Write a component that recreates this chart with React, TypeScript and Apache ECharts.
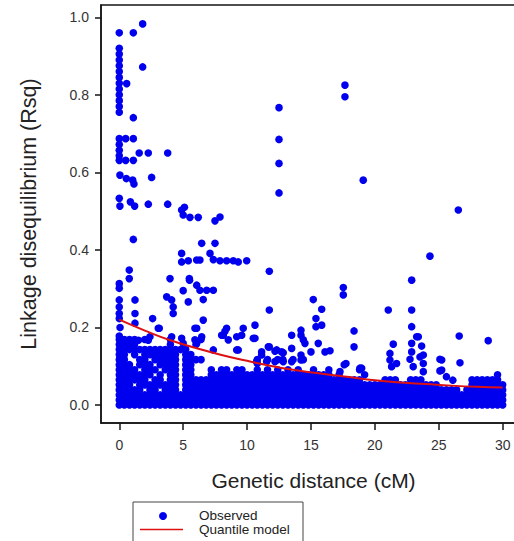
import React, { useEffect, useRef } from "react";
import * as echarts from "echarts";

const xTicks = [0, 5, 10, 15, 20, 25, 30];
const yTicks = [0, 0.2, 0.4, 0.6, 0.8, 1.0];

// Quantile model curve
const curveX = [0, 2, 4, 6, 8, 10, 12, 14, 16, 18, 20, 22, 24, 26, 28, 30];
const curveY = [0.22, 0.192, 0.167, 0.147, 0.129, 0.114, 0.1, 0.089, 0.08, 0.072, 0.064, 0.058, 0.054, 0.05, 0.047, 0.045];

// Isolated observed points [cM, Rsq]
const observedPoints: [number, number][] = [
  [1.83, 0.983], [0, 0.96], [1.1, 0.96],
  [0, 0.92], [0, 0.905], [0, 0.89], [0, 0.875], [0, 0.86], [0, 0.845], [0, 0.83], [0, 0.815], [0, 0.8], [0, 0.785], [0, 0.77], [0, 0.755],
  [0.58, 0.829], [1.83, 0.872], [1.1, 0.741],
  [0.5, 0.687], [1.1, 0.687], [0, 0.687], [0, 0.672], [0, 0.657], [0, 0.643], [0, 0.631], [0.5, 0.631], [1.1, 0.631],
  [1.56, 0.65], [2.27, 0.65], [3.79, 0.65],
  [0.05, 0.593], [0.55, 0.584], [1.05, 0.58], [1.15, 0.57], [2.53, 0.587],
  [0, 0.533], [0.87, 0.524], [0.05, 0.513], [1.2, 0.513], [2.27, 0.518], [3.79, 0.518], [5.1, 0.51],
  [4.88, 0.503], [5.0, 0.49], [5.53, 0.484], [6.18, 0.484], [7.49, 0.475], [7.88, 0.485],
  [1.1, 0.427], [6.45, 0.417], [7.49, 0.417],
  [4.88, 0.391], [4.88, 0.369], [5.4, 0.372], [6.06, 0.374], [6.31, 0.374],
  [7.1, 0.391], [7.36, 0.375], [7.88, 0.372], [8.4, 0.372], [8.92, 0.372], [9.31, 0.369], [9.97, 0.372],
  [0.78, 0.348], [0.78, 0.326], [0, 0.313], [0, 0.301], [3.97, 0.326], [5.48, 0.326], [5.0, 0.295],
  [6.06, 0.309], [6.31, 0.296], [6.84, 0.296], [7.36, 0.296], [5.5, 0.322],
  [3.71, 0.279], [4.1, 0.271], [4.22, 0.253], [4.22, 0.236], [5.4, 0.266], [6.57, 0.272],
  [0, 0.271], [0, 0.253], [0, 0.236], [0, 0.223], [1.23, 0.271], [1.23, 0.236], [1.23, 0.211],
  [2.61, 0.223], [3.13, 0.198], [5.92, 0.198], [6.57, 0.219], [6.45, 0.176], [6.06, 0.159],
  [8.4, 0.198], [8.14, 0.18], [8.53, 0.168], [9.19, 0.176], [4.1, 0.176], [4.88, 0.172], [5.0, 0.159], [2.4, 0.176],
  [0.06, 0.2], [3.05, 0.198], [6.06, 0.198], [8.27, 0.19], [9.7, 0.198], [5.92, 0.168],
  [8.01, 0.18], [9.58, 0.18], [10.49, 0.172], [9.31, 0.142], [7.36, 0.142], [1.5, 0.167], [2.27, 0.167],
  [12.5, 0.767], [12.5, 0.685], [12.5, 0.623], [12.5, 0.547], [17.66, 0.825], [17.66, 0.795], [19.09, 0.58],
  [26.53, 0.503], [24.31, 0.384], [22.88, 0.322], [21.05, 0.245], [22.88, 0.245], [22.88, 0.202],
  [26.6, 0.178], [28.87, 0.166], [21.44, 0.157], [23.4, 0.176], [23.66, 0.152], [22.88, 0.159], [22.88, 0.137],
  [21.18, 0.133], [21.18, 0.116], [21.31, 0.099], [21.7, 0.107], [22.75, 0.118], [23.0, 0.099], [23.53, 0.124],
  [23.79, 0.107], [23.79, 0.086], [26.66, 0.109], [25.09, 0.118], [25.09, 0.088], [23.27, 0.176], [23.79, 0.129],
  [25.23, 0.116], [25.23, 0.09], [25.6, 0.073], [26.1, 0.064],
  [11.74, 0.345], [11.74, 0.245], [11.74, 0.15], [15.18, 0.272], [15.84, 0.247], [15.39, 0.223], [15.39, 0.202],
  [15.84, 0.206], [17.53, 0.303], [17.53, 0.284], [18.37, 0.191], [18.37, 0.15],
  [10.62, 0.206], [10.62, 0.172], [9.19, 0.142], [11.14, 0.137], [11.14, 0.129], [12.32, 0.142], [12.83, 0.135],
  [13.49, 0.18], [13.49, 0.146], [14.22, 0.193], [14.22, 0.18], [14.4, 0.168], [14.53, 0.159], [14.22, 0.129],
  [14.22, 0.116], [15.0, 0.137], [15.57, 0.159], [16.1, 0.137], [16.49, 0.14], [17.74, 0.107], [18.97, 0.095],
  [11.66, 0.15], [12.18, 0.139], [12.7, 0.137], [10.75, 0.112], [11.53, 0.112], [12.18, 0.112], [12.83, 0.112],
  [13.49, 0.112], [10.8, 0.107], [17.27, 0.086], [18.83, 0.095],
];

// Dense mass of observed points: [cM, list of Rsq values stacked at that distance]
const observedColumns: [number, number[]][] = [
  [0, [0, .013, .026, .039, .052, .065, .078, .091, .104, .117, .13, .143, .156, .169, .178]],
  [0.4, [0, .013, .026, .039, .052, .065, .078, .091, .104, .117, .13, .143, .156, .169]],
  [0.8, [0, .013, .026, .039, .052, .065, .078, .091, .104, .143, .156, .169]],
  [1.2, [0, .013, .026, .039, .065, .078, .091, .13, .143, .156, .169]],
  [1.6, [0, .013, .026, .039, .052, .065, .078, .104, .117, .143]],
  [2.0, [0, .013, .026, .052, .065, .078, .091, .104, .117, .13, .143, .169]],
  [2.4, [0, .013, .026, .039, .052, .078, .091, .104, .13, .143]],
  [2.8, [0, .013, .026, .039, .052, .065, .091, .117, .13, .143]],
  [3.2, [0, .013, .026, .052, .065, .078, .104, .117, .13, .143]],
  [3.6, [0, .013, .026, .039, .052, .091, .104, .117, .13, .143]],
  [4.0, [0, .013, .026, .039, .052, .065, .078, .091, .104, .117, .13, .143, .156, .169]],
  [4.4, [0, .013, .026, .039, .052, .065, .078, .091, .104, .117, .13, .143]],
  [4.8, [0, .013, .026, .143]],
  [5.2, [0, .013, .026, .039, .052, .065, .078, .091, .104, .117, .13, .143]],
  [5.6, [0, .013, .026, .039, .052, .065, .078, .091, .104, .117, .13]],
  [6.0, [0, .013, .026, .039, .052, .065, .117, .156]],
  [6.4, [0, .013, .026, .039, .052, .065, .117, .169]],
  [6.8, [0, .013, .026, .039, .052, .065]],
  [7.2, [0, .013, .026, .039, .052, .065, .078, .091]],
  [7.6, [0, .013, .026, .039, .052, .065, .078]],
  [8.0, [0, .013, .026, .039, .052, .065, .078, .091]],
  [8.4, [0, .013, .026, .039, .052, .065, .078, .091]],
  [8.8, [0, .013, .026, .039, .052, .065, .078]],
  [9.2, [0, .013, .026, .039, .052, .065, .078, .091]],
  [9.6, [0, .013, .026, .039, .052, .065, .078, .091]],
  [10.0, [0, .013, .026, .039, .052, .065, .078]],
  [10.4, [0, .013, .026, .039, .052, .065, .078]],
  [10.8, [0, .013, .026, .039, .052, .065, .078, .091, .117]],
  [11.2, [0, .013, .026, .039, .052, .065, .078]],
  [11.6, [0, .013, .026, .039, .052, .065, .078, .091, .117]],
  [12.0, [0, .013, .026, .039, .052, .065, .078]],
  [12.4, [0, .013, .026, .039, .052, .065, .078, .091, .117]],
  [12.8, [0, .013, .026, .039, .052, .065, .078, .117]],
  [13.2, [0, .013, .026, .039, .052, .065, .078, .091]],
  [13.6, [0, .013, .026, .039, .052, .065, .078, .117]],
  [14.0, [0, .013, .026, .039, .052, .065, .078, .091]],
  [14.4, [0, .013, .026, .039, .052, .065, .078, .117]],
  [14.8, [0, .013, .026, .039, .052, .065, .078]],
  [15.2, [0, .013, .026, .039, .052, .065, .078, .091]],
  [15.6, [0, .013, .026, .039, .052, .065, .078]],
  [16.0, [0, .013, .026, .039, .052, .065, .078]],
  [16.4, [0, .013, .026, .039, .052, .065, .078, .091]],
  [16.8, [0, .013, .026, .039, .052, .065]],
  [17.2, [0, .013, .026, .039, .052, .065, .078]],
  [17.6, [0, .013, .026, .039, .052, .065, .104]],
  [18.0, [0, .013, .026, .039, .052, .065]],
  [18.4, [0, .013, .026, .039, .052, .065]],
  [18.8, [0, .013, .026, .039, .052, .065, .091]],
  [19.2, [0, .013, .026, .039, .052, .078]],
  [19.6, [0, .013, .026, .039, .052]],
  [20.0, [0, .013, .026, .039, .052]],
  [20.4, [0, .013, .026, .039, .052]],
  [20.8, [0, .013, .026, .039, .052, .065]],
  [21.2, [0, .013, .026, .039, .052, .065]],
  [21.6, [0, .013, .026, .039, .052, .065]],
  [22.0, [0, .013, .026, .039, .052]],
  [22.4, [0, .013, .026, .039, .052]],
  [22.8, [0, .013, .026, .039, .052, .065]],
  [23.2, [0, .013, .026, .039, .052, .065]],
  [23.6, [0, .013, .026, .039, .052, .065]],
  [24.0, [0, .013, .026, .039, .052]],
  [24.4, [0, .013, .026, .039, .052]],
  [24.8, [0, .013, .026, .039, .052]],
  [25.2, [0, .013, .026, .039]],
  [25.6, [0, .013, .026, .039]],
  [26.0, [0, .013, .026, .039]],
  [26.4, [0, .013, .026, .039]],
  [26.8, [0, .013, .026]],
  [27.2, [0, .013, .026, .039]],
  [27.6, [0, .013, .026, .039, .052, .065]],
  [28.0, [0, .013, .026, .039, .052, .065]],
  [28.4, [0, .013, .026, .039, .052, .065]],
  [28.8, [0, .013, .026, .039, .052, .065]],
  [29.2, [0, .013, .026, .039, .052, .065]],
  [29.6, [0, .013, .026, .039, .052, .065, .078]],
  [30.0, [0, .013, .026, .039, .052]],
];

const FONT = "'Liberation Sans', Arial, Helvetica, sans-serif";
const BLUE = "#0000ee";
const RED = "#dd1111";

export default function App() {
  const ref = useRef<HTMLDivElement>(null);

  useEffect(() => {
    if (!ref.current) return;
    const chart = echarts.init(ref.current, null, { renderer: "svg" });

    const observed: [number, number][] = observedPoints.concat(
      observedColumns.flatMap(([x, ys]) => ys.map((y) => [x, y] as [number, number]))
    );
    const curve = curveX.map((x, i) => [x, curveY[i]]);

    chart.setOption({
      animation: false,
      backgroundColor: "#ffffff",
      textStyle: { fontFamily: FONT },
      grid: {
        left: 101,
        top: 5,
        width: 425,
        height: 418,
        outerBoundsMode: "none",
        containLabel: false,
        show: true,
        borderColor: "#151515",
        borderWidth: 1.5,
        backgroundColor: "transparent",
      },
      xAxis: {
        type: "value",
        min: -1.43,
        max: 31.826,
        splitLine: { show: false },
        axisLine: { show: true, onZero: false, lineStyle: { color: "#151515", width: 1.5 } },
        axisTick: { show: true, length: 7, customValues: xTicks, lineStyle: { color: "#151515", width: 1.5 } },
        axisLabel: {
          customValues: xTicks,
          formatter: (v: number) => String(Math.round(v)),
          margin: 15,
          fontSize: 14,
          color: "#333",
          fontFamily: FONT,
        },
        name: "Genetic distance (cM)",
        nameLocation: "middle",
        nameGap: 47,
        nameTextStyle: { fontSize: 21, color: "#222", fontFamily: FONT },
      },
      yAxis: {
        type: "value",
        min: -0.0464,
        max: 1.0317,
        splitLine: { show: false },
        axisLine: { show: true, onZero: false, lineStyle: { color: "#151515", width: 1.5 } },
        axisTick: { show: true, length: 6, customValues: yTicks, lineStyle: { color: "#151515", width: 1.5 } },
        axisLabel: {
          customValues: yTicks,
          formatter: (v: number) => v.toFixed(1),
          margin: 12,
          fontSize: 14,
          color: "#333",
          fontFamily: FONT,
        },
        name: "Linkage disequilibrium (Rsq)",
        nameLocation: "middle",
        nameGap: 61,
        nameTextStyle: { fontSize: 21.5, color: "#222", fontFamily: FONT },
      },
      series: [
        {
          name: "Observed",
          type: "scatter",
          data: observed,
          symbol: "circle",
          symbolSize: 7.6,
          itemStyle: { color: BLUE, opacity: 1 },
          z: 2,
        },
        {
          name: "Quantile model",
          type: "line",
          data: curve,
          smooth: true,
          showSymbol: false,
          symbol: "none",
          lineStyle: { color: RED, width: 2 },
          z: 3,
        },
      ],
      graphic: [
        {
          type: "rect",
          shape: { x: 133, y: 502, width: 170, height: 50 },
          style: { fill: "#fff", stroke: "#444", lineWidth: 1 },
        },
        { type: "circle", shape: { cx: 163, cy: 516, r: 4 }, style: { fill: BLUE } },
        {
          type: "line",
          shape: { x1: 140, y1: 529.5, x2: 183, y2: 529.5 },
          style: { stroke: RED, lineWidth: 1.5 },
        },
        {
          type: "text",
          x: 199,
          y: 515,
          style: { text: "Observed", fontSize: 13.5, lineHeight: 13.5, fontFamily: FONT, fill: "#222", verticalAlign: "middle" },
        },
        {
          type: "text",
          x: 199,
          y: 529.3,
          style: { text: "Quantile model", fontSize: 13.5, lineHeight: 13.5, fontFamily: FONT, fill: "#222", verticalAlign: "middle" },
        },
      ],
    });

    return () => chart.dispose();
  }, []);

  return (
    <div
      ref={ref}
      style={{ position: "absolute", left: 0, top: 0, width: 514, height: 541 }}
    />
  );
}
